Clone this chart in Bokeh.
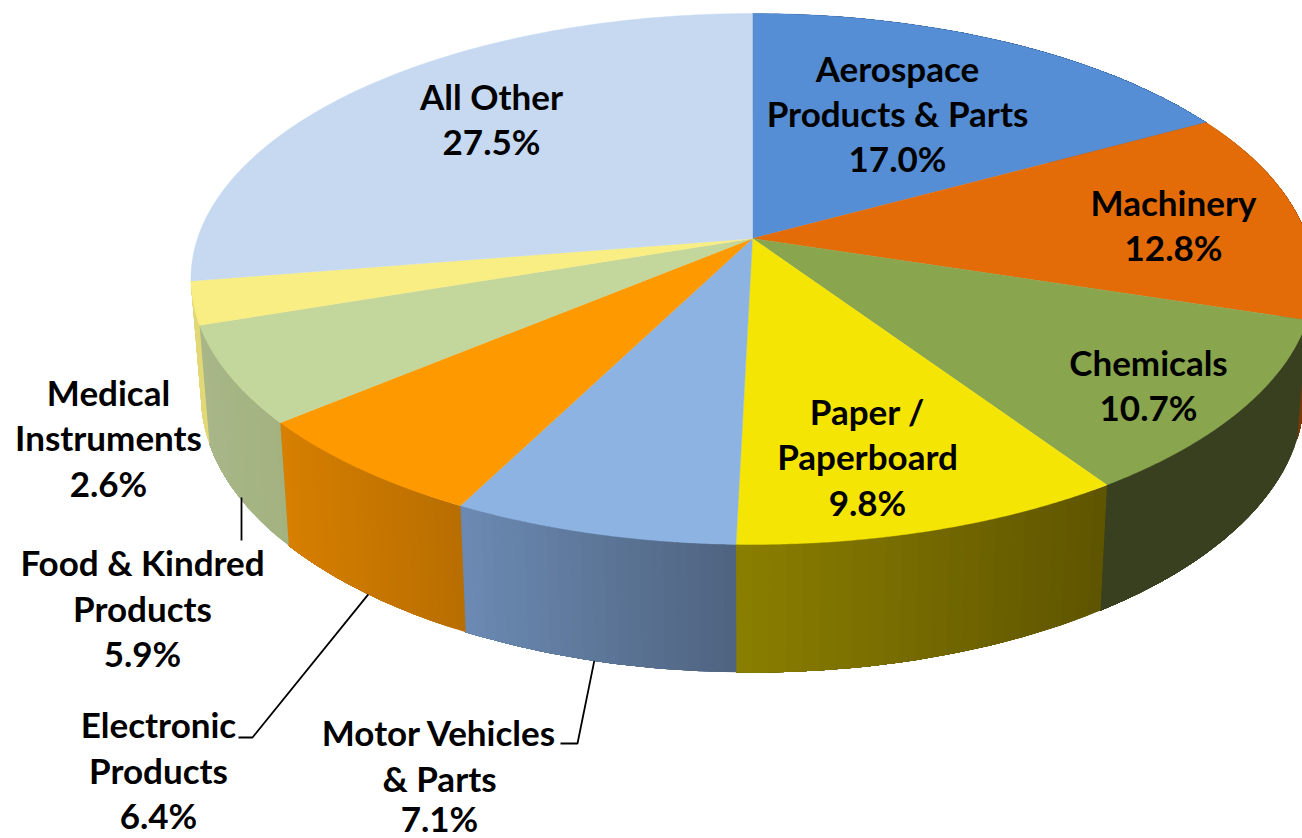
import numpy as np
from bokeh.plotting import figure
from bokeh.models import Range1d
from bokeh.embed import file_html
from bokeh.resources import INLINE
from bokeh.core.properties import value

categories = ["Aerospace Products & Parts", "Machinery", "Chemicals", "Paper / Paperboard",
              "Motor Vehicles & Parts", "Electronic Products", "Food & Kindred Products",
              "Medical Instruments", "All Other"]
shares = [17.0, 12.8, 10.7, 9.8, 7.1, 6.4, 5.9, 2.6, 27.5]
top_colors = ["#558ed5", "#e36c09", "#89a54e", "#f5e504", "#8db3e2", "#ff9900", "#c3d69b", "#f9ee83", "#c6d9f1"]
side_left = ["#2f4f75", "#7a3a05", "#384020", "#8c8000", "#6c8bb4", "#d88000", "#a9b789", "#e3d878", "#8fa0b4"]
side_right = ["#2f4f75", "#7a3a05", "#384020", "#5f5500", "#4f6480", "#b86e00", "#a3b27f", "#e3d878", "#8fa0b4"]

W, H = 1302, 838
CX, CY = 752, 238
K = 0.1525
A_TOP, B_TOP = 555, 259.3
A_BOT, B_BOT, CY_BOT = 545, 270, 353.4


def project(theta, a, b, cy):
    s, c = np.sin(theta), np.cos(theta)
    d = 1 + K * c
    return CX + a * s / d, cy - b * c / d


def hex2rgb(h):
    return np.array([int(h[i:i + 2], 16) for i in (1, 3, 5)], float)


def mix(c1, c2, t):
    r = hex2rgb(c1) * (1 - t) + hex2rgb(c2) * t
    return "#%02x%02x%02x" % tuple(int(round(v)) for v in r)


p = figure(width=W, height=H, x_range=Range1d(0, W), y_range=Range1d(H, 0),
           toolbar_location=None, output_backend="svg", min_border=0,
           x_axis_location=None, y_axis_location=None, outline_line_color=None,
           background_fill_color="white", border_fill_color="white")
p.grid.visible = False
p.margin = (0, 0, 0, 0)

total = sum(shares)
edges = 2 * np.pi * np.concatenate([[0], np.cumsum(shares)]) / total

# Sides, drawn in overlapping strips for the left-to-right shading
xs, ys, cols = [], [], []
for i in range(len(shares) - 1):
    t = np.linspace(edges[i], edges[i + 1], 25)
    tx, ty = project(t, A_TOP, B_TOP, CY)
    bx, by = project(t, A_BOT, B_BOT, CY_BOT)
    xmin, xmax = min(tx.min(), bx.min()), max(tx.max(), bx.max())
    n = len(t)
    for j in range(n - 1):
        e = np.arange(j, n)
        xs.append(np.concatenate([tx[e], bx[e][::-1]]))
        ys.append(np.concatenate([ty[e], by[e][::-1]]))
        f = ((tx[j] + bx[j]) / 2 - xmin) / max(xmax - xmin, 1)
        cols.append(mix(side_left[i], side_right[i], f))
p.patches(xs, ys, fill_color=cols, line_color=None)

# Top faces
xs, ys = [], []
for i in range(len(shares)):
    t = np.linspace(edges[i], edges[i + 1], 121)
    tx, ty = project(t, A_TOP, B_TOP, CY)
    xs.append(np.concatenate([[CX], tx]))
    ys.append(np.concatenate([[CY], ty]))
p.patches(xs, ys, fill_color=top_colors, line_color=top_colors, line_width=0.4)

# Leader lines: anchored on the lower rim at the slice's position
def rim(i, frac):
    th = edges[i] + (edges[i + 1] - edges[i]) * frac
    x, y = project(th, A_BOT, B_BOT, CY_BOT)
    return float(x), float(y)

mx, my = rim(4, 0.503)
ex, ey = rim(5, 0.49)
p.line([560, 577, mx], [743, 743, my], line_color="black", line_width=1.8)
p.line([238, 252, ex], [737, 737, ey], line_color="black", line_width=1.8)
p.line([241, 241], [497, 540], line_color="black", line_width=1.8)

label_lines = [
    ["All Other", "27.5%"],
    ["Aerospace", "Products & Parts", "17.0%"],
    ["Machinery", "12.8%"],
    ["Chemicals", "10.7%"],
    ["Paper /", "Paperboard", "9.8%"],
    ["Medical", "Instruments", "2.6%"],
    ["Food & Kindred", "Products", "5.9%"],
    ["Electronic", "Products", "6.4%"],
    ["Motor Vehicles", "& Parts", "7.1%"],
]
label_x = [[491, 491], [897, 897, 897], [1173, 1173], [1148, 1148], [867, 867, 867],
           [108, 108, 108], [142, 142, 142], [158, 158, 158], [439, 439, 439]]
label_y = [[95, 140], [67, 112, 157], [201, 246], [361, 406], [410, 455, 501],
           [391, 436, 482], [561, 607, 652], [723, 769, 814], [731, 777, 817]]
tx, ty, tt = [], [], []
for ls, lx, ly in zip(label_lines, label_x, label_y):
    for s, a, b in zip(ls, lx, ly):
        tt.append(s); tx.append(a); ty.append(b)
p.text(tx, ty, text=tt, text_font=value("Lato"), text_font_style="bold", text_font_size="35px",
       text_color="black", text_align="center", text_baseline="middle")

open("out.html", "w").write(file_html(p, INLINE))
